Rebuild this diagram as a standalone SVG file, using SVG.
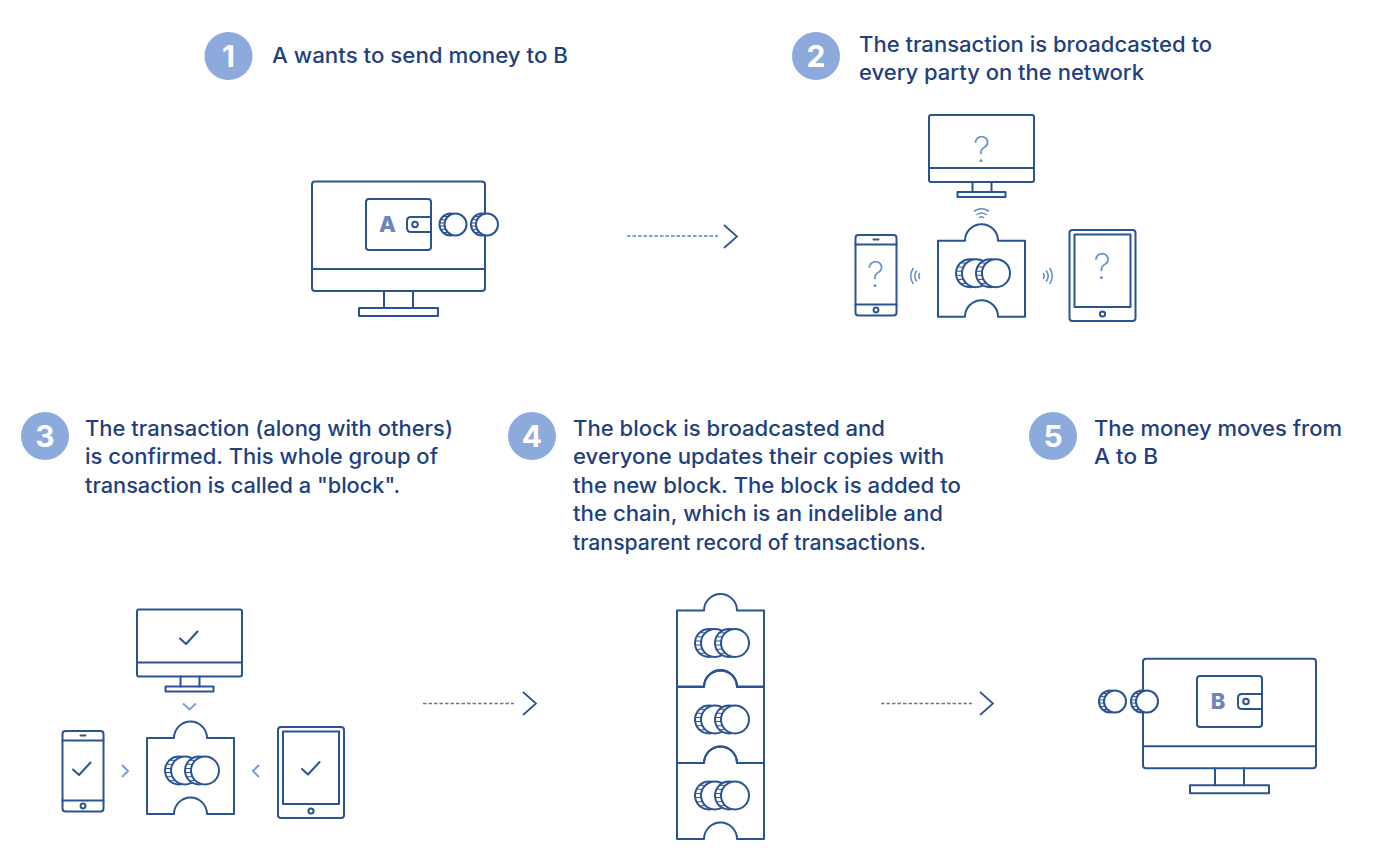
<svg xmlns="http://www.w3.org/2000/svg" xmlns:xlink="http://www.w3.org/1999/xlink" width="1400" height="865" viewBox="0 0 1400 865">
<style>
.l{fill:none;stroke:#2a5393;stroke-width:2;stroke-linejoin:round;stroke-linecap:round}
.w{fill:#fff;stroke:#2a5393;stroke-width:2;stroke-linejoin:round}
.r{fill:none;stroke:#2a5393;stroke-width:1.1}
.wifi{fill:none;stroke:#5f8ccb;stroke-width:1.5;stroke-linecap:round}
.chev{fill:none;stroke:#7b9fd6;stroke-width:2}
.dash{fill:none;stroke:#4583c6;stroke-width:1.3;stroke-dasharray:3.500 2}
.arr{fill:none;stroke:#2a5393;stroke-width:1.7}
.dot{fill:#8caadb}
.n{font:700 30px "Inter","Liberation Sans",sans-serif;fill:#fff;text-anchor:middle}
.t{font:500 21px "Inter","Liberation Sans",sans-serif;fill:#1f3f7e}
.q{font:200 35px "Inter","Liberation Sans",sans-serif;fill:#5f8fd0;text-anchor:middle}
.let{font:800 22px "Inter","Liberation Sans",sans-serif;fill:#6d86b8;text-anchor:middle}
</style>
<defs>
<g id="coinL">
<circle class="w" cx="-6" r="14"/>
<path class="r" d="M-19.900,-2L-13.900,-2M-19.900,2L-13.900,2M-19,-6.500L-12.600,-6M-19,6.500L-12.600,6M-16.400,-10.500L-9.800,-10M-16.400,10.500L-9.800,10"/>
<circle class="w" r="14"/>
</g>
<g id="coinS">
<circle class="w" cx="-5" r="11"/>
<path class="r" d="M-15.900,-1.500L-10.900,-1.500M-15.900,1.500L-10.900,1.500M-15.100,-5L-10,-4.700M-15.100,5L-10,4.700M-13,-8.200L-7.700,-7.900M-13,8.200L-7.700,7.900"/>
<circle class="w" r="11"/>
</g>
<g id="block">
<path class="w" d="M-43.500,0H-16.500A16.500,16.500 0 0 1 16.500,0H43.500V76H16.500A16.500,16.500 0 0 0 -16.500,76H-43.500Z"/>
<use href="#coinL" x="-5.500" y="32.500"/>
<use href="#coinL" x="14.500" y="32.500"/>
</g>
<g id="monS">
<rect class="l" width="105" height="67" rx="2"/>
<path class="l" d="M0,53H105M43.500,67V77M62.500,67V77"/>
<rect class="l" x="28.500" y="77" width="48" height="5"/>
</g>
<g id="monL">
<rect class="l" width="173" height="109.500" rx="3"/>
<path class="l" d="M0,87.500H173M72,109.500V126.500M101,109.500V126.500"/>
<rect class="l" x="47" y="126.500" width="79" height="8"/>
</g>
<g id="phone">
<rect class="l" width="41" height="80.500" rx="3"/>
<path class="l" d="M0,9.500H41M0,69.500H41M18,4.500H23"/>
<circle class="l" cx="20.500" cy="75" r="2.400"/>
</g>
<g id="tablet">
<rect class="l" width="66" height="91" rx="3"/>
<rect class="l" x="5" y="4.500" width="56" height="72.500"/>
<circle class="l" cx="33" cy="84" r="2.600"/>
</g>
<g id="wallet">
<rect class="l" width="65" height="51" rx="3"/>
<path class="l" d="M65,18H45Q41,18 41,22V29Q41,33 45,33H65"/>
<circle class="l" cx="49" cy="25.500" r="2.800"/>
</g>
<path id="check" class="l" d="M-8.500,1L-2.500,6.500L9,-6"/>
</defs>

<g id="connectors">
<path class="dash" d="M627,236H718"/><path class="arr" d="M724,225L737,236.500L724,248"/>
<path class="dash" d="M423,703.500H514"/><path class="arr" d="M523,692L536,703.500L523,715"/>
<path class="dash" d="M881,703.500H972"/><path class="arr" d="M980,692L993,703.500L980,715"/>
<path class="wifi" d="M974.500,211Q981.500,206.500 988.500,211M977,214.500Q981.500,211.500 986,214.500M979.500,217.500Q981.500,216 983.500,217.500"/>
<path class="wifi" d="M913,268.500Q908.500,276 913,283.500M916.500,271Q913,276 916.500,281M919.500,273.500Q918,276 919.500,278.500"/>
<path class="wifi" d="M1050,268.500Q1054.500,276 1050,283.500M1046.500,271Q1050,276 1046.500,281M1043.500,273.500Q1045,276 1043.500,278.500"/>
<path class="chev" d="M183,703.500L189.500,709.500L196,703.500"/>
<path class="chev" d="M122,765L128,771L122,777"/>
<path class="chev" d="M259,765L253,771L259,777"/>
</g>

<g id="step1">
<circle class="dot" cx="228.500" cy="56" r="24"/><text class="n" x="228.500" y="67">1</text>
<text class="t" x="272" y="63" textLength="296" lengthAdjust="spacingAndGlyphs">A wants to send money to B</text>
<use href="#monL" x="312" y="181.500"/>
<use href="#wallet" x="366" y="199"/>
<text class="let" x="387.500" y="232">A</text>
<use href="#coinS" x="455.500" y="224.500"/>
<use href="#coinS" x="487" y="224.500"/>
</g>

<g id="step2">
<circle class="dot" cx="816" cy="56" r="24"/><text class="n" x="816" y="67">2</text>
<text class="t" x="859" y="52" textLength="353" lengthAdjust="spacingAndGlyphs">The transaction is broadcasted to</text>
<text class="t" x="859" y="80" textLength="285" lengthAdjust="spacingAndGlyphs">every party on the network</text>
<use href="#monS" x="929" y="115"/>
<text class="q" x="981.500" y="161.500">?</text>
<use href="#block" x="981.500" y="240.700"/>
<use href="#phone" x="855.500" y="235"/>
<text class="q" x="875.500" y="286.500">?</text>
<use href="#tablet" x="1069.500" y="230"/>
<text class="q" x="1102" y="278.500">?</text>
</g>

<g id="step3">
<circle class="dot" cx="45" cy="436" r="24"/><text class="n" x="45" y="447">3</text>
<text class="t" x="85" y="436" textLength="368" lengthAdjust="spacingAndGlyphs">The transaction (along with others)</text>
<text class="t" x="85" y="464" textLength="353" lengthAdjust="spacingAndGlyphs">is confirmed. This whole group of</text>
<text class="t" x="85" y="493" textLength="315" lengthAdjust="spacingAndGlyphs">transaction is called a "block".</text>
<use href="#monS" x="137" y="609.500"/>
<use href="#check" x="188.500" y="637.500"/>
<use href="#block" x="190.500" y="738"/>
<use href="#phone" x="62.500" y="731"/>
<use href="#check" x="81.500" y="768.500"/>
<use href="#tablet" x="278" y="727"/>
<use href="#check" x="310.500" y="768"/>
</g>

<g id="step4">
<circle class="dot" cx="532" cy="436" r="24"/><text class="n" x="532" y="447">4</text>
<text class="t" x="573" y="436" textLength="312" lengthAdjust="spacingAndGlyphs">The block is broadcasted and</text>
<text class="t" x="573" y="464" textLength="371" lengthAdjust="spacingAndGlyphs">everyone updates their copies with</text>
<text class="t" x="573" y="493" textLength="388" lengthAdjust="spacingAndGlyphs">the new block. The block is added to</text>
<text class="t" x="573" y="521" textLength="370" lengthAdjust="spacingAndGlyphs">the chain, which is an indelible and</text>
<text class="t" x="573" y="550" textLength="353" lengthAdjust="spacingAndGlyphs">transparent record of transactions.</text>
<use href="#block" x="720.500" y="763"/>
<use href="#block" x="720.500" y="687"/>
<use href="#block" x="720.500" y="610.500"/>
<path class="l" d="M704,687A16.500,16.500 0 0 1 737,687M704,763A16.500,16.500 0 0 1 737,763"/>
</g>

<g id="step5">
<circle class="dot" cx="1053" cy="436" r="24"/><text class="n" x="1053" y="447">5</text>
<text class="t" x="1094" y="436" textLength="248" lengthAdjust="spacingAndGlyphs">The money moves from</text>
<text class="t" x="1094" y="464" textLength="64" lengthAdjust="spacingAndGlyphs">A to B</text>
<use href="#monL" x="1143" y="658.700"/>
<use href="#wallet" x="1197" y="676"/>
<text class="let" x="1218" y="709">B</text>
<use href="#coinS" x="1115" y="701.500"/>
<use href="#coinS" x="1147" y="701.500"/>
</g>
</svg>
